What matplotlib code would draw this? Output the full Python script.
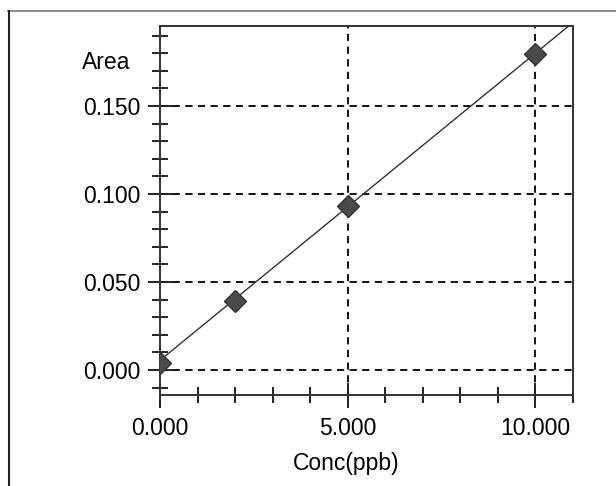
import matplotlib
matplotlib.use("Agg")
import matplotlib.pyplot as plt
from matplotlib.lines import Line2D
from matplotlib.ticker import MultipleLocator, FormatStrFormatter

plt.rcParams['font.family'] = ['Liberation Sans', 'DejaVu Sans']

# data
conc = [0.0, 2.0, 5.0, 10.0]
area = [0.004, 0.039, 0.093, 0.1795]
fit_x = [0.0, 11.0]
fit_y = [0.0055, 0.1975]
x_major = [0, 5, 10]
y_major = [0.0, 0.05, 0.10, 0.15]

W, H = 616, 486
FS = 16.5
fig = plt.figure(figsize=(W / 100, H / 100), dpi=100)
ax = fig.add_axes([160 / W, 1 - 395 / H, (573 - 160) / W, (395 - 26) / H])

ax.set_xlim(0, 11)
ax.set_ylim(-0.0142, 0.1955)

# gridlines
for gx in x_major[1:]:
    ax.axvline(gx, color='black', lw=1.3, ls=(0, (4, 3)), zorder=1)
for gy in y_major:
    ax.axhline(gy, color='black', lw=1.3, ls=(0, (4, 3)), zorder=1)

ax.plot(fit_x, fit_y, color='#333333', lw=1.0, zorder=2)
ax.plot(conc, area, ls='none', marker='D', markersize=11, color='#4a4a4a',
        markeredgecolor='#333333', zorder=3)

ax.set_xticks(x_major)
ax.set_yticks(y_major)
ax.xaxis.set_minor_locator(MultipleLocator(1))
ax.yaxis.set_minor_locator(MultipleLocator(0.01))
ax.xaxis.set_major_formatter(FormatStrFormatter('%.3f'))
ax.yaxis.set_major_formatter(FormatStrFormatter('%.3f'))

ax.tick_params(which='major', direction='inout', length=18, width=1.4,
               labelsize=FS, colors='#222222', labelcolor='black')
ax.tick_params(axis='x', which='major', pad=6.5)
ax.tick_params(axis='y', which='major', pad=5)
ax.tick_params(which='minor', direction='inout', length=12, width=1.4,
               colors='#222222')

for s in ax.spines.values():
    s.set_linewidth(1.4)
    s.set_color('#333333')

fig.text(346 / W, 1 - 470 / H, 'Conc(ppb)', fontsize=FS, ha='center',
         va='baseline')
fig.text(106 / W, 1 - 69 / H, 'Area', fontsize=FS, ha='center',
         va='baseline')

# outer frame
fig.add_artist(Line2D([8 / W, 1.0], [1 - 11.5 / H, 1 - 11.5 / H],
                      transform=fig.transFigure, color='#777777', lw=1.2))
fig.add_artist(Line2D([8.5 / W, 8.5 / W], [0, 1 - 11.5 / H],
                      transform=fig.transFigure, color='#222222', lw=1.5))

fig.savefig('out.png', dpi=100)
